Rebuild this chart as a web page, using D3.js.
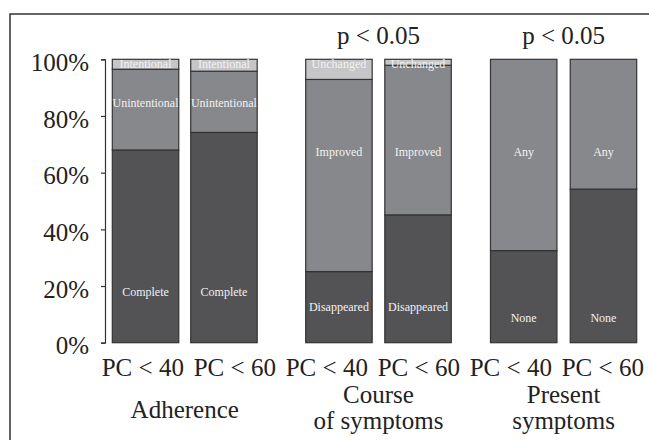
<!DOCTYPE html>
<html>
<head>
<meta charset="utf-8">
<script src="https://cdn.jsdelivr.net/npm/d3@7"></script>
<style>
  html, body { margin: 0; padding: 0; background: #fff; }
  svg { display: block; }
</style>
</head>
<body>
<svg id="chart" width="649" height="440"></svg>
<script>
// ---- data ----
const barLabels = ["PC < 40", "PC < 60", "PC < 40", "PC < 60", "PC < 40", "PC < 60"];
const groupNames = [["Adherence"], ["Course", "of symptoms"], ["Present", "symptoms"]];
const groupPValues = ["", "p < 0.05", "p < 0.05"];
const yTicks = [0, 20, 40, 60, 80, 100];

const bottomValues = [68.0, 74.2, 25.1, 45.1, 32.5, 54.2];
const middleValues = [28.5, 21.6, 67.8, 52.8, 67.5, 45.8];
const topValues    = [3.5, 4.2, 7.1, 2.1, 0, 0];

const bottomNames = ["Complete", "Complete", "Disappeared", "Disappeared", "None", "None"];
const middleNames = ["Unintentional", "Unintentional", "Improved", "Improved", "Any", "Any"];
const topNames    = ["Intentional", "Intentional", "Unchanged", "Unchanged", "", ""];

// label heights (in %) where segment names are written
const bottomLabelAt = [17.9, 17.9, 12.6, 12.6, 8.7, 8.7];
const middleLabelAt = [84.6, 84.6, 67.3, 67.3, 67.3, 67.3];
const topLabelAt    = [98.3, 98.3, 98.3, 98.3, 98.3, 98.3];

// ---- layout ----
const FONT = "'Liberation Serif', 'Tinos', 'Times New Roman', 'Nimbus Roman', 'DejaVu Serif', serif";
const gapsBefore = [0, 0.18, 0.73, 0.19, 0.59, 0.2]; // in bar widths
const colors = ["#535356", "#87888b", "#c6c6c8"];
const svg = d3.select("#chart").style("font-family", FONT);

// frame
svg.append("rect").attr("x", 10).attr("y", 14).attr("width", 700).attr("height", 500)
  .attr("fill", "none").attr("stroke", "#333").attr("stroke-width", 1.5);

const lefts = [];
let acc = 0;
gapsBefore.forEach((g) => { acc += g; lefts.push(acc); acc += 1; });
const x = d3.scaleLinear().domain([0, acc]).range([112.3, 636.7]);
const y = d3.scaleLinear().domain([0, 100]).range([342.7, 59.3]);
const xl = d3.scalePoint().domain(d3.range(barLabels.length)).range([142.8, 602.8]);

const bars = barLabels.map((lab, i) => ({
  i,
  segs: [
    { v0: 0, v1: bottomValues[i], name: bottomNames[i], at: bottomLabelAt[i], c: colors[0] },
    { v0: bottomValues[i], v1: bottomValues[i] + middleValues[i], name: middleNames[i], at: middleLabelAt[i], c: colors[1] },
    { v0: bottomValues[i] + middleValues[i], v1: bottomValues[i] + middleValues[i] + topValues[i], name: topNames[i], at: topLabelAt[i], c: colors[2] }
  ]
}));

const bw = x(1) - x(0);
const barG = svg.append("g").selectAll("g").data(bars).join("g");
barG.selectAll("rect").data(d => d.segs.filter(s => s.v1 > s.v0).map(s => ({ ...s, i: d.i })))
  .join("rect")
  .attr("x", s => x(lefts[s.i]))
  .attr("width", bw)
  .attr("y", s => y(s.v1))
  .attr("height", s => y(s.v0) - y(s.v1))
  .attr("fill", s => s.c)
  .attr("stroke", "#333")
  .attr("stroke-width", 1.2);

barG.selectAll("text").data(d => d.segs.filter(s => s.name).map(s => ({ ...s, i: d.i })))
  .join("text")
  .attr("x", s => x(lefts[s.i] + 0.5))
  .attr("y", s => y(s.at))
  .attr("dy", "0.35em")
  .attr("text-anchor", "middle")
  .attr("fill", "#f2f2f2")
  .style("font-family", FONT)
  .attr("font-size", 12)
  .text(s => s.name);

// y axis
const ax = svg.append("g").attr("transform", "translate(105,0)")
  .call(d3.axisLeft(y).tickValues(yTicks).tickSize(4).tickSizeOuter(4).tickPadding(12)
    .tickFormat(d => d + "%"));
ax.attr("font-family", null).style("font-family", FONT);
ax.select(".domain").attr("stroke", "#333").attr("stroke-width", 1.2);
ax.selectAll(".tick line").attr("stroke", "#333").attr("stroke-width", 1.2);
ax.selectAll(".tick text").style("font-family", FONT)
  .attr("font-size", 25).attr("fill", "#222").attr("dy", "0.45em");

// bar tick labels
svg.append("g").selectAll("text").data(barLabels).join("text")
  .attr("x", (d, i) => xl(i)).attr("y", 376)
  .attr("text-anchor", "middle").attr("font-size", 25).attr("fill", "#222")
  .style("font-family", FONT)
  .text(d => d);

// group labels and p values
groupNames.forEach((lines, g) => {
  const cx = (x(lefts[2 * g]) + x(lefts[2 * g + 1] + 1)) / 2;
  const t = svg.append("text").attr("text-anchor", "middle").attr("font-size", 25)
    .attr("fill", "#222").style("font-family", FONT);
  if (lines.length === 1) {
    t.append("tspan").attr("x", cx).attr("y", 418).text(lines[0]);
  } else {
    lines.forEach((ln, k) => t.append("tspan").attr("x", cx).attr("y", 403 + k * 26).text(ln));
  }
  if (groupPValues[g]) {
    svg.append("text").attr("x", cx).attr("y", 44).attr("text-anchor", "middle")
      .attr("font-size", 25).attr("fill", "#222").style("font-family", FONT)
      .text(groupPValues[g]);
  }
});
</script>
</body>
</html>
